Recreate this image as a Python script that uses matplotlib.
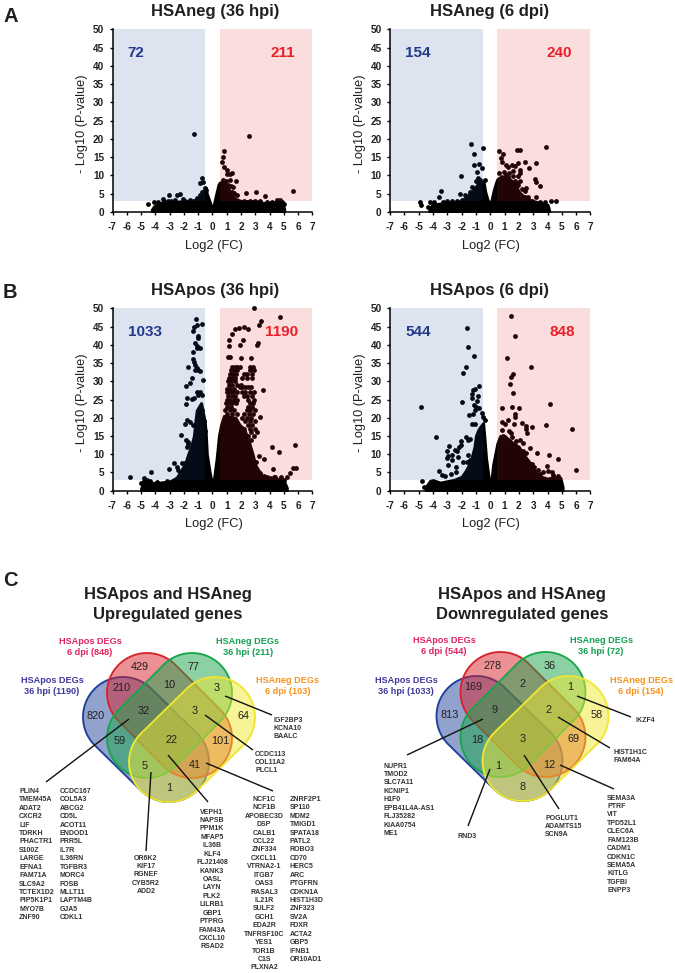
import numpy as np
import matplotlib
matplotlib.use('Agg')
import matplotlib.pyplot as plt
from matplotlib.patches import Polygon, Rectangle

plt.rcParams['font.family'] = ['Liberation Sans', 'DejaVu Sans']
plt.rcParams['axes.unicode_minus'] = False

W, H = 675, 973

# volcano data: isolated points (log2 FC, -log10 P)
a36_pts = [(-1.26,21.3),(2.54,20.9),(.82,16.8),(.75,15),(.7,13.6),(.82,12.2),(1.0,11.5),(1.4,10.6),(1,10.5),
           (1.24,10.4),(1.63,8.5),(1.24,8.8),(.72,8.8),(-.72,9.2),(-.86,8),(-.68,8.3),(2.33,5.2),(3.03,5.5),
           (3.66,4.3),(5.67,5.8),(1.73,4.6),(-3.08,4.7),(-2.5,4.6),(-2.24,4.8),(-3.5,3.5),(-2.08,3.5),
           (-1.56,3.2),(-4.55,2.2),(-4.08,2.6),(-.47,6),(-.63,4.8),(-1.1,3.7),(1.47,6.9),(1.35,5.6),
           (1.1,7.5),(1.3,7.2),(.95,8.4),(1.5,5.2),(4.5,3.3),(4.75,3.2),(4.9,2.6),(5,2.1),(4.2,2.7),
           (2.2,3.1),(2.6,3.1),(3,3.1),(-2.9,3.1),(-3.4,2.9),(-1.9,3),(-.9,4.6),(-.75,5.4),(-.55,6.6),
           (-3.8,2.8),(-3.1,3),(-2.6,3.2),(-1.3,3),(3.3,2.9),(3.8,2.7),(4.1,2.5)]
a36_env_x = [-4.25,-4.1,-3.8,-3.5,-3,-2.5,-2,-1.5,-1,-.8,-.6,-.48,-.4,-.2,-.02,.02,.15,.3,.42,.5,.7,.9,1.1,1.3,1.6,2,2.5,3,3.5,4,4.5,4.9,5.02]
a36_env_y = [.6,1.5,2.2,2.6,2.8,2.8,3,3,3.6,4.5,6,6.6,5,2.8,.8,.8,3,5.5,7.5,8,8.4,7.6,6.5,5,3.6,3,3,3,2.5,2.4,2.8,2.4,.8]

a6_pts = [(-1.35,18.6),(-.51,17.4),(-1.12,16),(-1.16,12.9),(-.81,13.1),(-.56,12.1),(-.93,10.9),(-2.05,9.8),
          (-.88,9.4),(-.84,8.3),(-.4,8.8),(-1.26,6.8),(-3.47,5.8),(-3.58,4.2),(-2.1,5),(-1.77,4.6),(-1.42,5.4),
          (-3.05,3),(-2.7,3),(-2.35,3.1),(-4.9,2.7),(-4.84,1.9),(-4.37,1.3),(-4.2,2.6),(-.7,8.7),(-1,8.4),
          (.58,16.7),(.9,16),(.72,14.9),(.84,13.8),(1.86,17),(2.07,17),(3.86,17.8),(3.2,13.3),(2.42,13.6),
          (1.95,13.3),(2.72,12),(1.1,12.9),(1.26,12.4),(1.5,12.9),(1.72,12.7),(2.07,11.5),(1.6,11.3),(.95,10.9),
          (.6,10.8),(2.1,10.6),(3.12,9),(3.2,8.3),(3.47,7.1),(2.53,6.5),(2.42,5.8),(2.67,4.2),(3.19,4),(1.84,5.6),
          (1.5,7.4),(1.25,9.6),(1.6,9.8),(1.95,9.8),(1.25,7.4),(1.95,7.4),(1.84,7.9),(4.23,3.1),(4.56,3),
          (3.8,2.7),(2.95,2.9),(1.3,10.8),(1.1,10),(1.7,8.6),(2.1,8.5),(2.2,6.4),(1.5,5.8),
          (-3.9,2.6),(-3.3,2.7),(-2,3.4),(2.4,4),(3.5,2.7)]
a6_env_x = [-4.25,-4.05,-3.5,-3,-2.5,-2,-1.7,-1.4,-1.2,-1,-.8,-.6,-.46,-.35,-.2,-.02,.02,.1,.25,.4,.5,.8,1.2,1.5,1.8,2,2.4,2.8,3.2,3.5,4,4.1]
a6_env_y = [.6,2,2.3,2.5,2.6,3,4,5.2,6,7,8,8.3,8,5.5,3.4,2.2,2.2,3.4,6,8,9,9.8,9.5,8.5,7,5.5,4,3.2,2.8,2.3,2,.6]

b36_pts = [(-1.17,47),(-.72,45.7),(-1.1,45.4),(-1.28,45),(-1.38,43.9),(-1.03,42.4),(-.98,41.8),(-1.24,40.4),
           (-1.1,39.8),(-.86,39.2),(-1.05,39),(-1.33,38.1),(-1.38,36),(-1.3,35.3),(-1.22,34.4),(-1.1,33.7),
           (-1,33.1),(-.86,32.9),(-1.68,33.8),(-1.2,33.2),(-.63,30.3),(-1.45,31),(-1.56,29.4),(-1.84,28.8),
           (-.86,27),(-.98,26.3),(-.75,26.3),(-1.8,25.3),(-1.45,25.1),(-1.26,25.3),(-1.87,23.7),(-1.75,19.4),
           (-1.6,18.7),(-1.91,18.3),(-1.38,18),(-2.2,15.4),(-1.84,13.9),(-1.68,12.7),(-1.45,12.1),(-1.22,12.1),
           (-1.8,12.1),(-2.73,7.7),(-3.08,5.9),(-2.5,6.6),(-2.15,7.5),(-1.9,7.7),(-4.32,5.1),(-5.79,3.8),
           (-4.83,3.4),(-5,2),(-2.4,5.7),(-2.3,5.2),(-1.68,13.4),(-1.1,27),(-.7,22),(-.6,19),(-.5,16.5),
           (2.92,50),(4.76,47.5),(3.38,46.5),(3.24,45.4),(1.56,44.2),(1.84,44.6),(2.2,44.9),(2.52,44.2),(1.4,43),
           (1.19,41.3),(2.17,41.3),(1.14,39.6),(1.94,40),(3.2,40.6),(3.13,40),(1.07,36.7),(1.24,36.7),(2,36.3),
           (2.7,36.3),(3.57,27.5),(3.34,20.3),(4.18,12),(5.81,12.6),(4.64,10.7),(3.29,9.5),(3.64,8.8),(3.08,8),
           (4.22,5.9),(5.67,6.1),(5.86,6.1),(5.44,4.8),(5.2,3.8),(4.3,3.8),(4.83,3.8),(3.8,3.8),(3.34,4.8),
           (1.4,34),(1.6,34),(1.75,34),(1.9,34),(2.6,34),(2.85,34),(1.3,33),(1.5,33),(1.7,33),(2.65,33),(2.9,33),
           (1.2,32),(1.45,32),(1.65,32),(2.2,32),(2.45,32),(2.75,32),(1.15,31),(1.35,31),(1.6,31),(2.1,31),
           (2.4,31),(2.8,31),(1.1,30),(1.3,30),(1.55,30),(1.15,29),(1.4,29),(1.7,29),(2,29),(1.9,28.5),(2.1,28.5),
           (2.3,28.5),(2.5,28.5),(2.7,28.5),(1.05,28),(1.25,28),(1.5,28),(1,27),(1.2,27),(1.45,27),(1.7,27),
           (2.05,27),(2.3,27),(2.6,27),(2.9,27),(1.1,26),(1.35,26),(1.6,26),(2.2,26),(2.45,26),(2.75,26),(1,25),
           (1.25,25),(1.5,25),(1.75,25),(2.5,25),(2.9,25),(.95,24),(1.15,24),(1.4,24),(1.65,24),(2.6,24),(2.85,24),
           (1.05,23),(1.3,23),(2.5,23),(2.8,23),(.9,22),(1.2,22),(1.5,22),(2.4,22),(2.65,22),(2.95,22),(1,21),
           (1.35,21),(1.7,21),(2.2,21),(2.55,21),(2.85,21),(2.1,20),(2.4,20),(2.7,20),(2.3,19),(2.6,19),(3,19),
           (2.5,18),(2.8,18),(2.2,17),(2.6,17),(3,17),(2.7,16),(3.1,16),(2.5,15),(2.9,15),(2.7,14),
           (-4.8,2.6),(-4.6,3),(-4.4,2.7),(-3.9,2.5),(-3.2,2.6),(3.6,4),(4,3.6),(4.4,3.7),(4.7,3.2),(5,3)]
b36_env_x = [-5,-4.9,-4.5,-4,-3.5,-3,-2.5,-2.2,-1.9,-1.7,-1.5,-1.3,-1.2,-1.1,-.8,-.7,-.55,-.48,-.4,-.2,-.03,.03,.1,.3,.45,.6,.8,1.6,1.9,2.2,2.5,2.8,3,3.5,4,4.5,5,5.2]
b36_env_y = [.6,1.6,2.3,2.1,2.3,2.5,3.6,5.5,7.5,10,12,15,19,22,24,22,19,16,10,5,1.8,1.8,3,9,15,18,20.5,20,18,17,14,10,7,3.8,3.2,3.3,2.6,.8]

b6_pts = [(-1.6,44.5),(-1.53,39.4),(-1.16,36.8),(-1.7,33.9),(-1.88,32.3),(-.81,28.8),(-1.07,28),(-1.19,27.6),
          (-1.26,26.5),(-1.3,25.5),(-.84,26),(-.91,24.7),(-1.95,24.2),(-4.81,22.9),(-1.12,23.5),(-.98,23),(-.82,22.6),
          (-1.07,22.1),(-1.49,20.7),(-1.19,21),(-.56,21.4),(-.49,20.3),(-.37,19.4),(-1.3,18.3),(-1.07,18.3),(-3.81,14.6),
          (-1.72,14.8),(-2.02,13.6),(-2.9,12.3),(-3.05,10.9),(-2.47,11.2),(-2.35,10.8),(-2.02,12.6),(-2.18,12),(-1.53,14),
          (-1.42,14.2),(-2.93,9.4),(-3.05,8.9),(-2.7,9.8),(-2.23,9.3),(-1.88,8),(-2.65,8.4),(-2.93,7),(-3.56,5.3),
          (-3.4,4.3),(-3.16,4),(-2.74,4.6),(-2.42,6.6),(-2.42,5.2),(-1.53,9.8),(-1.42,8.4),(-1.63,8),(-4.74,2.7),(-4.6,1),
          (1.44,48),(1.74,42.5),(1.19,36.4),(2.84,33.8),(1.6,32.1),(1.42,31.3),(1.37,29.2),(1.6,26.7),(4.14,23.8),
          (.84,22.8),(1.51,22.9),(1.98,22.6),(1.72,21),(1.72,20.3),(1.26,19.4),(.79,18.7),(1.02,18.3),(1.67,18.3),
          (2.19,18.6),(2.53,17.7),(2.49,16.8),(2.56,15.9),(2.95,17.4),(3.86,17.9),(5.74,17),(1.42,15.9),(1.3,16.4),
          (.79,16.6),(.9,15),(2.07,13.9),(2.3,13),(2.77,11.8),(3.26,10.4),(4.07,9.9),(4.72,8.6),(2.53,10.2),(2.42,8.8),
          (3.95,6.9),(4.05,5.5),(3.7,5),(3.02,6.6),(6,5.6),(4.3,5.2),(3.14,5.2),(1.8,13.6),(1.5,14.6),(2.3,11),
          (3.5,4.6),(3.3,5.6),(2.9,7.4),(4.4,4.4),(4.7,4)]
b6_env_x = [-4.5,-4.2,-4,-3.5,-3,-2.5,-2,-1.7,-1.5,-1.3,-1.1,-1,-.85,-.7,-.5,-.4,-.3,-.2,-.05,.05,.1,.2,.3,.4,.5,.7,1,1.3,1.6,2,2.3,2.7,3,3.4,4,4.5,4.9,5.05]
b6_env_y = [1,2.7,2.9,2.2,2.6,3,3.8,5.5,7,9,12,15,16.5,17.5,18.5,14,9,6,1.8,1.8,3.4,7,9,11,13,15,15,14,13,12,10,8,6,4,3.3,3.8,3.5,1]

panel_titles = ['HSAneg (36 hpi)', 'HSAneg (6 dpi)', 'HSApos (36 hpi)', 'HSApos (6 dpi)']
down_counts = [72, 154, 1033, 544]
up_counts = [211, 240, 1190, 848]

x_ticks = list(range(-7, 8))
y_ticks = list(range(0, 51, 5))

# venn data
up_title = ['HSApos and HSAneg', 'Upregulated genes']
down_title = ['HSApos and HSAneg', 'Downregulated genes']
up_sets = ['HSApos DEGs\n36 hpi (1190)', 'HSApos DEGs\n6 dpi (848)', 'HSAneg DEGs\n36 hpi (211)', 'HSAneg DEGs\n6 dpi (103)']
down_sets = ['HSApos DEGs\n36 hpi (1033)', 'HSApos DEGs\n6 dpi (544)', 'HSAneg DEGs\n36 hpi (72)', 'HSAneg DEGs\n6 dpi (154)']
up_regions = [429, 77, 210, 10, 3, 820, 32, 3, 64, 59, 22, 101, 5, 41, 1]
down_regions = [278, 36, 169, 2, 1, 813, 9, 2, 58, 18, 3, 69, 1, 12, 8]

genes_up_a = ['PLIN4','TMEM45A','ADAT2','CXCR2','LIF','TDRKH','PHACTR1','S100Z','LARGE','EFNA1','FAM71A','SLC9A2','TCTEX1D2','PIP5K1P1','MYO7B','ZNF90']
genes_up_b = ['CCDC167','COL5A3','ABCG2','CD5L','ACOT11','ENDOD1','PRR5L','IL7R','IL36RN','TGFBR3','MORC4','FOSB','MLLT11','LAPTM4B','GJA5','CDKL1']
genes_up_c = ['OR6K2','KIF17','RGNEF','CYB5R2','ADD2']
genes_up_d = ['VEPH1','NAPSB','PPM1K','MFAP5','IL36B','KLF4','FLJ21408','KANK3','OASL','LAYN','PLK2','LILRB1','GBP1','PTPRG','FAM43A','CXCL10','RSAD2']
genes_up_e = ['NCF1C','NCF1B','APOBEC3D','DSP','CALB1','CCL22','ZNF334','CXCL11','VTRNA2-1','ITGB7','OAS3','RASAL3','IL21R','SULF2','GCH1','EDA2R','TNFRSF10C','YES1','TOR1B','C1S','PLXNA2']
genes_up_f = ['ZNRF2P1','SP110','MDM2','TMIGD1','SPATA18','PATL2','ROBO3','CD70','HERC5','ARC','PTGFRN','CDKN1A','HIST1H3D','ZNF323','SV2A','FDXR','ACTA2','GBP5','IFNB1','OR10AD1']
genes_up_g = ['IGF2BP3','KCNA10','BAALC']
genes_up_h = ['CCDC113','COL11A2','PLCL1']
genes_dn_a = ['NUPR1','TMOD2','SLC7A11','KCNIP1','H1F0','EPB41L4A-AS1','FLJ35282','KIAA0754','ME1']
genes_dn_b = ['RND3']
genes_dn_c = ['POGLUT1','ADAMTS15','SCN9A']
genes_dn_d = ['SEMA3A','PTRF','VIT','TPD52L1','CLEC6A','FAM123B','CADM1','CDKN1C','SEMA5A','KITLG','TGFBI','ENPP3']
genes_dn_e = ['IKZF4']
genes_dn_f = ['HIST1H1C','FAM64A']

DARK = '#231f20'
BLUE_TXT = '#233a8b'
RED_TXT = '#e8202a'

fig = plt.figure(figsize=(W / 100, H / 100), dpi=100)

# full-figure overlay in pixel coordinates, for the labels and the venn diagrams
ov = fig.add_axes([0, 0, 1, 1], zorder=5)
ov.set_xlim(0, W)
ov.set_ylim(H, 0)
ov.axis('off')


def volcano(left, right, top, bottom, pts, env_x, env_y, title, n_down, n_up, title_x, down_x, up_x):
    ax = fig.add_axes([left / W, 1 - bottom / H, (right - left) / W, (bottom - top) / H])
    p = np.array(pts)
    ax.fill_between(env_x, 0, env_y, color='black', lw=2.2, joinstyle='round', zorder=2)
    ax.scatter(p[:, 0], p[:, 1], s=12, c='black', lw=0, zorder=2, clip_on=False)
    # shading goes over the points, so they pick up a slight tint
    ax.add_patch(Rectangle((-7, 3), 6.5, 47, fc=(.133, .293, .6), alpha=.15, lw=0, zorder=3))
    ax.add_patch(Rectangle((.5, 3), 6.5, 47, fc=(.893, .113, .113), alpha=.15, lw=0, zorder=3))
    ax.set_xlim(-7, 7)
    ax.set_ylim(0, 50)
    ax.set_xticks(x_ticks)
    ax.set_yticks(y_ticks)
    ax.spines['top'].set_visible(False)
    ax.spines['right'].set_visible(False)
    for s in ['left', 'bottom']:
        ax.spines[s].set_linewidth(1.1)
        ax.spines[s].set_zorder(4)
    ax.tick_params(axis='x', length=2.5, width=1, pad=5, labelsize=7.2)
    ax.tick_params(axis='y', length=2.5, width=1, pad=3.5, labelsize=7.2)
    for t in ax.get_xticklabels() + ax.get_yticklabels():
        t.set_fontweight('bold')
        t.set_color(DARK)
    ov.text((left + right) / 2 + 1, bottom + 33.5, 'Log2 (FC)', fontsize=9.3, ha='center', va='center', color=DARK)
    ov.text(left - 30, (top + bottom) / 2 + 3, '- Log10 (P-value)', fontsize=9.2, rotation=90, ha='center', va='center', color=DARK)
    ov.text(title_x, top - 18, title, fontsize=12, fontweight='bold', ha='center', va='center', color=DARK)
    ov.text(down_x, top + 24, str(n_down), fontsize=11, fontweight='bold', ha='center', va='center', color=BLUE_TXT)
    ov.text(up_x, top + 24, str(n_up), fontsize=11, fontweight='bold', ha='center', va='center', color=RED_TXT)


volcano(112.5, 312.5, 29.3, 212, a36_pts, a36_env_x, a36_env_y, panel_titles[0], down_counts[0], up_counts[0], 215, 135.5, 283)
volcano(390, 590.5, 29.3, 212, a6_pts, a6_env_x, a6_env_y, panel_titles[1], down_counts[1], up_counts[1], 490, 418, 559)
volcano(112.5, 312.5, 308.3, 490.7, b36_pts, b36_env_x, b36_env_y, panel_titles[2], down_counts[2], up_counts[2], 215, 145, 282)
volcano(390, 590.5, 308.3, 490.7, b6_pts, b6_env_x, b6_env_y, panel_titles[3], down_counts[3], up_counts[3], 490, 418, 562)

for letter, y in zip('ABC', [16, 293, 580]):
    ov.text(3, y, letter, fontsize=14.5, fontweight='bold', ha='left', va='center', color=DARK)


def capsule(p0, p1, r, fc, ec, a=.5):
    # stadium outline around the segment p0-p1
    p0, p1 = np.array(p0, float), np.array(p1, float)
    ang = np.arctan2(p1[1] - p0[1], p1[0] - p0[0])
    t1 = np.linspace(ang + np.pi / 2, ang + np.pi * 1.5, 40)
    t2 = np.linspace(ang - np.pi / 2, ang + np.pi / 2, 40)
    arc0 = p0 + r * np.c_[np.cos(t1), np.sin(t1)]
    arc1 = p1 + r * np.c_[np.cos(t2), np.sin(t2)]
    verts = np.vstack([arc0, arc1])
    ov.add_patch(Polygon(verts, closed=True, fc=fc, ec='none', alpha=a))
    ov.add_patch(Polygon(verts, closed=True, fc='none', ec=ec, lw=1.35))


def venn(dx, dy):
    capsule((123 + dx, 717 + dy), (169 + dx, 762 + dy), 40, '#24469c', '#1e3f9c')
    capsule((147 + dx, 693 + dy), (192 + dx, 738 + dy), 40, '#d8232a', '#d8232a')
    capsule((192 + dx, 693 + dy), (147 + dx, 738 + dy), 40, '#19a54b', '#19a54b')
    capsule((215 + dx, 717 + dy), (169 + dx, 762 + dy), 40, '#f0e830', '#f0e630')


venn(0, 0)
venn(353.5, -1)

up_region_xy = [(140,667),(193,667),(122,688),(169,685),(217,688),(96,716),(144,711),(195,711),(243,716),
                (120,741),(171,740),(220,741),(145,766),(195,765),(169,788)]
down_region_xy = [(493,666),(550,666),(473,687),(522,684),(570,687),(450,715),(495,710),(549,710),(597,715),
                  (477,740),(523,739),(574,739),(498,766),(549,765),(523,787)]
for vals, xys in [(up_regions, up_region_xy), (down_regions, down_region_xy)]:
    for v, (x, y) in zip(vals, xys):
        ov.text(x, y, str(v), fontsize=7.8, ha='center', va='center', color=DARK, zorder=6)

set_colors = ['#3f3a99', '#e0245e', '#12a150', '#f7941d']
up_set_xy = [(52, 686), (90, 647), (248, 647), (288, 686)]
down_set_xy = [(406, 686), (444, 646), (601, 646), (641, 686)]
for labels, xys in [(up_sets, up_set_xy), (down_sets, down_set_xy)]:
    for lab, col, (x, y) in zip(labels, set_colors, xys):
        ov.text(x, y, lab, fontsize=6.6, fontweight='bold', color=col, ha='center', va='center', linespacing=1.3)

for lines, x in [(up_title, 168), (down_title, 522)]:
    ov.text(x, 594, lines[0], fontsize=12, fontweight='bold', ha='center', va='center', color=DARK)
    ov.text(x, 614, lines[1], fontsize=12, fontweight='bold', ha='center', va='center', color=DARK)

# leader lines
leaders = [((225,696),(272,715)),((205,715),(253,750)),((129,719),(46,782)),((168,755),(208,802)),
           ((206,763),(273,791)),((151,772),(146,851)),((577,696),(631,717)),((558,717),(610,748)),
           ((483,719),(407,755)),((490,769),(468,826)),((524,755),(559,809)),((560,765),(614,789))]
for (x0, y0), (x1, y1) in leaders:
    ov.plot([x0, x1], [y0, y1], color='#111111', lw=1.0, zorder=6, solid_capstyle='butt')


def gene_list(genes, x, y, ha='left'):
    for i, g in enumerate(genes):
        ov.text(x, y + i * 8.43, g, fontsize=5.0, fontweight='bold', ha=ha, va='center', color='#333333')


gene_list(genes_up_a, 19, 791.3)
gene_list(genes_up_b, 60, 791.3)
gene_list(genes_up_c, 146, 858, 'center')
gene_list(genes_up_d, 212, 812, 'center')
gene_list(genes_up_e, 264, 799.3, 'center')
gene_list(genes_up_f, 290, 799.3)
gene_list(genes_up_g, 274, 720)
gene_list(genes_up_h, 255, 754)
gene_list(genes_dn_a, 384, 766)
gene_list(genes_dn_b, 458, 836)
gene_list(genes_dn_c, 545, 818)
gene_list(genes_dn_d, 607, 798)
gene_list(genes_dn_e, 635, 720)
gene_list(genes_dn_f, 614, 752)

fig.savefig('out.png', dpi=100)
